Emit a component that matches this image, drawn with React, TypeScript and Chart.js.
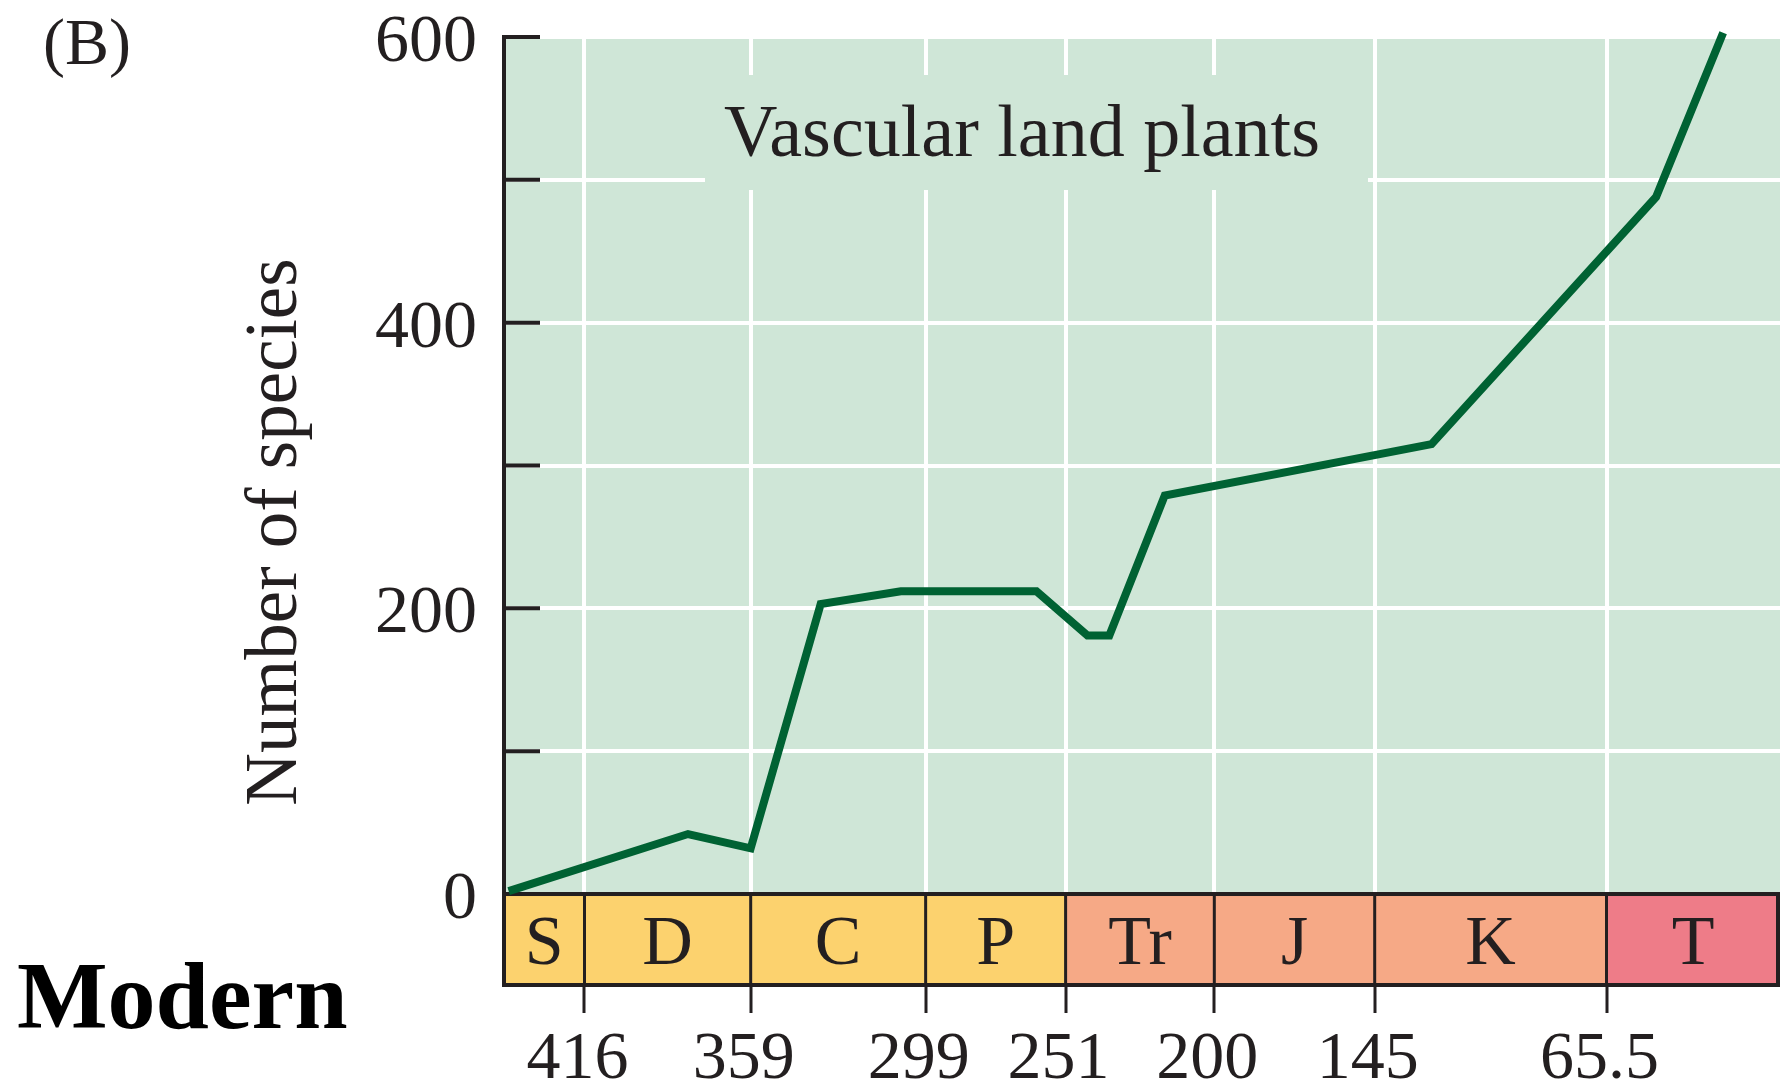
import React, { useEffect, useRef } from 'react';
import { Chart, registerables } from 'chart.js';

Chart.register(...registerables);

// ---- Data ----
const ages = [442, 380.5, 359, 335, 307.5, 261, 243.5, 236, 217, 125.5, 48.5, 25.5]; // Myr ago
const species = [2, 42, 32, 203, 212, 212, 181, 181, 279, 315, 488, 603];

const periodNames = ['S', 'D', 'C', 'P', 'Tr', 'J', 'K', 'T'];
const periodStarts = [443.6, 416, 359, 299, 251, 200, 145, 65.5];
const periodEnds = [416, 359, 299, 251, 200, 145, 65.5, 6];
const periodColors = ['#FCD26E', '#FCD26E', '#FCD26E', '#FCD26E', '#F6A986', '#F6A986', '#F6A986', '#EE7C88'];

const xTickValues = [416, 359, 299, 251, 200, 145, 65.5];
const xTickLabels = ['416', '359', '299', '251', '200', '145', '65.5'];
const yTickValues = [0, 100, 200, 300, 400, 500, 600];
const yTickLabels = ['0', '', '200', '', '400', '', '600'];

const panelLabel = '(B)';
const cornerLabel = 'Modern';
const plotTitle = 'Vascular land plants';
const yTitle = 'Number of species';

// ---- Style ----
const INK = '#231F20';
const GREEN_BG = '#CFE6D7';
const LINE_GREEN = '#006233';
const SERIF = '"Liberation Serif", "Times New Roman", serif';

const zeroPadding = (scale: any) => {
  scale.paddingTop = 0;
  scale.paddingBottom = 0;
  scale.paddingLeft = 0;
  scale.paddingRight = 0;
};

const decorPlugin = {
  id: 'decor',
  beforeDraw(chart: any) {
    const { ctx, chartArea, scales } = chart;
    const y = scales.y;
    const top = y.getPixelForValue(600);
    const bottom = y.getPixelForValue(0);
    ctx.save();
    ctx.fillStyle = GREEN_BG;
    ctx.fillRect(chartArea.left, top + 1, chartArea.right - chartArea.left, bottom - top);
    ctx.restore();
  },
  beforeDatasetsDraw(chart: any) {
    const { ctx, chartArea, scales } = chart;
    const x = scales.x;
    const y = scales.y;
    ctx.save();

    // background box behind the plot title (interrupts grid lines)
    ctx.fillStyle = GREEN_BG;
    ctx.fillRect(705, 75, 1368 - 705, 190 - 75);
    ctx.fillStyle = INK;
    ctx.font = `74px ${SERIF}`;
    ctx.textAlign = 'center';
    ctx.textBaseline = 'alphabetic';
    ctx.fillText(plotTitle, 1022, 156);

    // inner tick marks on y axis
    ctx.strokeStyle = INK;
    ctx.lineWidth = 4;
    yTickValues.forEach((v) => {
      const py = y.getPixelForValue(v);
      ctx.beginPath();
      ctx.moveTo(chartArea.left, py);
      ctx.lineTo(chartArea.left + 36, py);
      ctx.stroke();
    });

    // geological period bar
    const barTop = y.getPixelForValue(0);
    const barBottom = chartArea.bottom;
    periodNames.forEach((name, i) => {
      const x1 = x.getPixelForValue(periodStarts[i]);
      const x2 = x.getPixelForValue(periodEnds[i]);
      ctx.fillStyle = periodColors[i];
      ctx.fillRect(x1, barTop, x2 - x1, barBottom - barTop);
      ctx.fillStyle = INK;
      ctx.font = `70px ${SERIF}`;
      ctx.textAlign = 'center';
      ctx.textBaseline = 'alphabetic';
      ctx.fillText(name, (x1 + x2) / 2, 964);
    });
    ctx.strokeStyle = INK;
    ctx.lineWidth = 3;
    for (let i = 1; i < periodNames.length; i++) {
      const px = x.getPixelForValue(periodStarts[i]);
      ctx.beginPath();
      ctx.moveTo(px, barTop);
      ctx.lineTo(px, barBottom);
      ctx.stroke();
    }
    ctx.lineWidth = 4;
    const bx1 = x.getPixelForValue(periodStarts[0]);
    const bx2 = x.getPixelForValue(periodEnds[periodEnds.length - 1]);
    ctx.strokeRect(bx1, barTop, bx2 - bx1 - 2, barBottom - barTop);

    // y-axis title (rotated)
    ctx.save();
    ctx.translate(277, 532);
    ctx.rotate(-Math.PI / 2);
    ctx.fillStyle = INK;
    ctx.font = `73px ${SERIF}`;
    ctx.textAlign = 'center';
    ctx.textBaseline = 'middle';
    ctx.fillText(yTitle, 0, 0);
    ctx.restore();

    // panel label and corner label
    ctx.fillStyle = INK;
    ctx.textAlign = 'left';
    ctx.textBaseline = 'alphabetic';
    ctx.font = `66px ${SERIF}`;
    ctx.fillText(panelLabel, 43, 64);
    ctx.fillStyle = '#000000';
    ctx.font = `bold 96px ${SERIF}`;
    ctx.fillText(cornerLabel, 17, 1028);
    ctx.restore();
  },
};

export default function App() {
  const canvasRef = useRef<HTMLCanvasElement | null>(null);

  useEffect(() => {
    document.body.style.margin = '0';
    const canvas = canvasRef.current;
    if (!canvas) return;
    const chart = new Chart(canvas, {
      type: 'line',
      data: {
        datasets: [
          {
            data: ages.map((a, i) => ({ x: a, y: species[i] })),
            borderColor: LINE_GREEN,
            borderWidth: 8,
            pointRadius: 0,
            tension: 0,
            fill: false,
            clip: false as any,
            borderJoinStyle: 'miter',
            borderCapStyle: 'butt',
          },
        ],
      },
      options: {
        animation: false,
        responsive: false,
        devicePixelRatio: 1,
        events: [],
        layout: {
          autoPadding: false,
          padding: { left: 233.5, top: 37, right: 3, bottom: 0 },
        },
        plugins: {
          legend: { display: false },
          tooltip: { enabled: false },
        },
        scales: {
          x: {
            type: 'linear',
            reverse: true,
            min: 6,
            max: 443.6,
            afterBuildTicks: (scale: any) => {
              scale.ticks = xTickValues.map((v) => ({ value: v }));
            },
            afterFit: (scale: any) => {
              scale.height = 106;
              zeroPadding(scale);
            },
            border: { display: false },
            grid: {
              display: true,
              drawOnChartArea: true,
              color: '#FFFFFF',
              lineWidth: 4,
              drawTicks: true,
              tickLength: 28,
              tickColor: INK,
              tickWidth: 3,
            },
            ticks: {
              autoSkip: false,
              maxRotation: 0,
              minRotation: 0,
              padding: 6,
              labelOffset: -7,
              color: INK,
              font: { family: SERIF, size: 68 },
              callback: (_v: any, i: number) => xTickLabels[i],
            },
          },
          y: {
            type: 'linear',
            min: -63.7,
            max: 600,
            afterBuildTicks: (scale: any) => {
              scale.ticks = yTickValues.map((v) => ({ value: v }));
            },
            afterFit: (scale: any) => {
              scale.width = 270.5;
              zeroPadding(scale);
            },
            border: { display: true, color: INK, width: 4 },
            grid: {
              display: true,
              drawOnChartArea: true,
              drawTicks: false,
              color: '#FFFFFF',
              lineWidth: 4,
            },
            ticks: {
              autoSkip: false,
              padding: 27,
              labelOffset: 6,
              color: INK,
              font: { family: SERIF, size: 68 },
              callback: (_v: any, i: number) => yTickLabels[i],
            },
            title: { display: false },
          },
        },
      },
      plugins: [decorPlugin],
    } as any);
    return () => chart.destroy();
  }, []);

  return (
    <div style={{ width: 1783, height: 1091, position: 'relative', background: '#FFFFFF' }}>
      <canvas ref={canvasRef} width={1783} height={1091} style={{ display: 'block' }} />
    </div>
  );
}
